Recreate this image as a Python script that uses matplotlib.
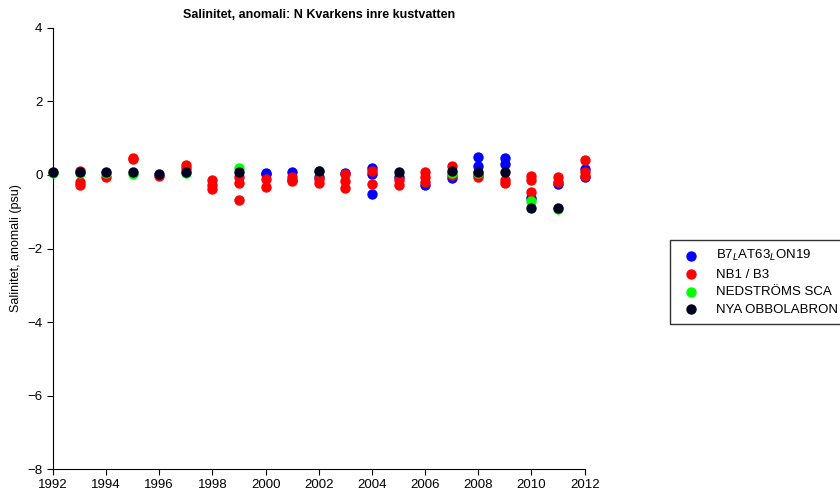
import matplotlib
matplotlib.use("Agg")
import matplotlib.pyplot as plt

plt.rcParams['font.family'] = ['Liberation Sans', 'DejaVu Sans']

# B7 LAT63 LON19
b7_year = [2000, 2000, 2001, 2001, 2002, 2003, 2004, 2004, 2004, 2005, 2006, 2007,
           2008, 2008, 2009, 2009, 2010, 2011, 2012, 2012]
b7_val = [0.03, 0.05, 0.08, -0.15, -0.05, 0.05, 0.2, 0.03, -0.52, -0.05, -0.27, -0.09,
          0.48, 0.25, 0.45, 0.3, -0.62, -0.25, 0.15, -0.06]

# NB1 / B3
nb1_year = [1993, 1993, 1993, 1994, 1995, 1995, 1996, 1997, 1997, 1998, 1998, 1998,
            1999, 1999, 1999, 2000, 2000, 2001, 2001, 2002, 2002, 2003, 2003, 2003,
            2004, 2004, 2005, 2005, 2006, 2006, 2006, 2007, 2007, 2008, 2008,
            2009, 2009, 2010, 2010, 2010, 2011, 2011, 2012, 2012, 2012]
nb1_val = [0.1, -0.2, -0.28, -0.05, 0.43, 0.45, -0.03, 0.27, 0.19, -0.15, -0.28, -0.38,
           -0.05, -0.22, -0.68, -0.12, -0.32, -0.05, -0.16, -0.1, -0.22, 0.03, -0.16, -0.35,
           0.12, -0.25, -0.14, -0.27, 0.09, -0.05, -0.18, 0.25, 0.0, -0.05, 0.0,
           -0.15, -0.22, -0.03, -0.14, -0.45, -0.05, -0.18, 0.4, 0.09, -0.03]

# NEDSTROMS SCA
ned_year = [1992, 1993, 1994, 1995, 1997, 1999, 2002, 2007, 2008, 2010, 2011]
ned_val = [0.05, 0.05, 0.05, 0.03, 0.05, 0.2, 0.1, 0.06, 0.05, -0.7, -0.92]

# NYA OBBOLABRON
nya_year = [1992, 1993, 1994, 1995, 1996, 1997, 1999, 2002, 2005, 2007, 2008, 2009,
            2010, 2011]
nya_val = [0.08, 0.08, 0.08, 0.08, 0.03, 0.08, 0.08, 0.12, 0.09, 0.1, 0.07, 0.07,
           -0.9, -0.89]

fig = plt.figure(figsize=(8.4, 4.99), dpi=100)
ax = fig.add_axes([0.063, 0.06, 0.633, 0.884])

ms = 42
ax.scatter(b7_year, b7_val, s=ms, color='#0000ff', label='B7$_L$AT63$_L$ON19', zorder=3, clip_on=False)
ax.scatter(nb1_year, nb1_val, s=ms, color='#ff0000', label='NB1 / B3', zorder=3, clip_on=False)
ax.scatter(ned_year, ned_val, s=ms, color='#00ff00', label='NEDSTRÖMS SCA', zorder=3, clip_on=False)
ax.scatter(nya_year, nya_val, s=ms, color='#000022', label='NYA OBBOLABRON', zorder=3, clip_on=False)

ax.set_xlim(1992, 2012)
ax.set_ylim(-8, 4)
ax.set_xticks(range(1992, 2013, 2))
ax.set_yticks(range(-8, 5, 2))
ax.spines['top'].set_visible(False)
ax.spines['right'].set_visible(False)
ax.tick_params(labelsize=9.5, length=4)
ax.set_ylabel('Salinitet, anomali (psu)', fontsize=9)
ax.set_title('Salinitet, anomali: N Kvarkens inre kustvatten', fontsize=9,
             fontweight='bold', pad=7)

leg = fig.legend(loc='upper left', bbox_to_anchor=(0.79, 0.532), fontsize=9.5,
                 frameon=True, fancybox=False, edgecolor='black', borderpad=0.6,
                 handletextpad=0.9, labelspacing=0.4, scatterpoints=1)
leg.get_frame().set_linewidth(1)

fig.savefig('out.png', dpi=100)
